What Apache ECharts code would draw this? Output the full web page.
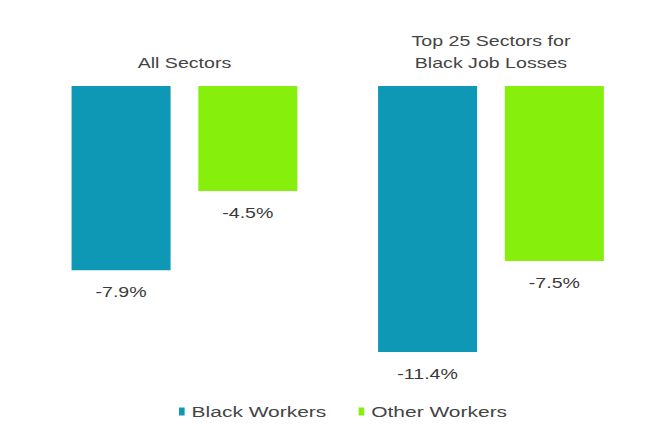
<!DOCTYPE html>
<html>
<head>
<meta charset="utf-8">
<script src="https://cdn.jsdelivr.net/npm/echarts@6/dist/echarts.min.js"></script>
<style>
  html, body { margin: 0; padding: 0; background: #ffffff; overflow: hidden; }
  #wrap { width: 656px; height: 432px; overflow: hidden; }
  /* The chart is laid out in a narrower box and widened horizontally,
     giving the broad, stretched lettering of the original graphic. */
  #chart { width: 469px; height: 432px; transform-origin: 0 0; transform: scaleX(1.3987); }
</style>
</head>
<body>
<div id="wrap"><div id="chart"></div></div>
<script>
// Job losses by group of sectors (percent change)
const categories = ['All Sectors', 'Top 25 Sectors for\nBlack Job Losses'];
const blackWorkers = [-7.9, -11.4];
const otherWorkers = [-4.5, -7.5];
const seriesNames = ['Black Workers', 'Other Workers'];

const FONT = '"Liberation Sans", Arial, sans-serif';
const TEXT = '#444444';

const chart = echarts.init(document.getElementById('chart'), null, { renderer: 'svg' });

const valueLabel = {
  show: true,
  position: 'bottom',
  distance: 15,
  color: '#3a3a3a',
  fontFamily: FONT,
  fontSize: 14,
  formatter: p => p.value.toFixed(1) + '%'
};

chart.setOption({
  backgroundColor: '#ffffff',
  animation: false,
  grid: { left: 22.3, right: 8.4, top: 86, bottom: 66, containLabel: false },
  legend: {
    left: 123,
    top: 399,
    icon: 'rect',
    itemWidth: 4,
    itemHeight: 8,
    itemGap: 23,
    textStyle: { color: TEXT, fontFamily: FONT, fontSize: 15 },
    data: seriesNames
  },
  xAxis: {
    type: 'category',
    position: 'top',
    data: categories,
    axisLine: { show: false },
    axisTick: { show: false },
    axisLabel: {
      margin: 12,
      color: TEXT,
      fontFamily: FONT,
      fontSize: 14,
      lineHeight: 22,
      interval: 0
    }
  },
  yAxis: {
    type: 'value',
    min: -12,
    max: 0,
    show: false,
    splitLine: { show: false }
  },
  series: [
    {
      name: seriesNames[0],
      type: 'bar',
      data: blackWorkers,
      barWidth: 70.8,
      barGap: '28%',
      itemStyle: { color: '#0e98b6' },
      label: valueLabel
    },
    {
      name: seriesNames[1],
      type: 'bar',
      data: otherWorkers,
      barWidth: 70.8,
      barGap: '28%',
      itemStyle: { color: '#86f00c' },
      label: valueLabel
    }
  ]
});
</script>
</body>
</html>
